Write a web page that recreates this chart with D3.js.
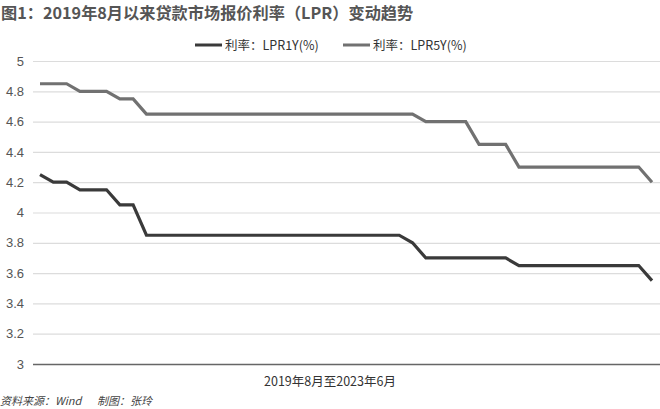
<!DOCTYPE html>
<html><head><meta charset="utf-8">
<script src="https://cdn.jsdelivr.net/npm/d3@7"></script>
<style>body{margin:0;background:#fff;}svg{display:block;font-family:"Liberation Sans","Noto Sans CJK SC",sans-serif;}</style>
</head><body><svg id="c" width="660" height="409"></svg>
<script>
const months = ["2019-08","2019-09","2019-10","2019-11","2019-12",
"2020-01","2020-02","2020-03","2020-04","2020-05","2020-06","2020-07","2020-08","2020-09","2020-10","2020-11","2020-12",
"2021-01","2021-02","2021-03","2021-04","2021-05","2021-06","2021-07","2021-08","2021-09","2021-10","2021-11","2021-12",
"2022-01","2022-02","2022-03","2022-04","2022-05","2022-06","2022-07","2022-08","2022-09","2022-10","2022-11","2022-12",
"2023-01","2023-02","2023-03","2023-04","2023-05","2023-06"];
const lpr1y = [4.25,4.20,4.20,4.15,4.15,
4.15,4.05,4.05,3.85,3.85,3.85,3.85,3.85,3.85,3.85,3.85,3.85,
3.85,3.85,3.85,3.85,3.85,3.85,3.85,3.85,3.85,3.85,3.85,3.80,
3.70,3.70,3.70,3.70,3.70,3.70,3.70,3.65,3.65,3.65,3.65,3.65,
3.65,3.65,3.65,3.65,3.65,3.55];
const lpr5y = [4.85,4.85,4.85,4.80,4.80,
4.80,4.75,4.75,4.65,4.65,4.65,4.65,4.65,4.65,4.65,4.65,4.65,
4.65,4.65,4.65,4.65,4.65,4.65,4.65,4.65,4.65,4.65,4.65,4.65,
4.60,4.60,4.60,4.60,4.45,4.45,4.45,4.30,4.30,4.30,4.30,4.30,
4.30,4.30,4.30,4.30,4.30,4.20];
const yTicks = [3,3.2,3.4,3.6,3.8,4,4.2,4.4,4.6,4.8,5];
const seriesNames = ["利率：LPR1Y(%)","利率：LPR5Y(%)"];
const title = "图1：2019年8月以来贷款市场报价利率（LPR）变动趋势";
const xTitle = "2019年8月至2023年6月";

const svg = d3.select("#c");
const x = d3.scalePoint().domain(months).range([40, 652]);
const y = d3.scaleLinear().domain([3,5]).range([364, 61]);

// gridlines
const yAxis = d3.axisLeft(y).tickValues(yTicks).tickSize(-(660-33)).tickPadding(9)
  .tickFormat(d => d3.format("")(+d.toFixed(1)));
const g = svg.append("g").attr("transform","translate(33,0)").call(yAxis);
g.select(".domain").remove();
g.selectAll(".tick line").attr("stroke","#dcdcdc").attr("stroke-width",1.2);
g.selectAll(".tick text").attr("fill","#555").attr("font-size",13).attr("font-family","Liberation Sans, sans-serif");
g.selectAll(".tick").filter(d=>d===3).select("line").attr("stroke","#666").attr("stroke-width",1.5);

const line = d3.line().x((d,i)=>x(months[i])).y(d=>y(d));
svg.append("path").datum(lpr5y).attr("d",line).attr("fill","none").attr("stroke","#717171").attr("stroke-width",3.2);
svg.append("path").datum(lpr1y).attr("d",line).attr("fill","none").attr("stroke","#3a3a3a").attr("stroke-width",3.2);

// title
svg.append("text").attr("x",1).attr("y",19).text(title)
  .attr("font-size",16.2).attr("font-weight","bold").attr("fill","#555")
  .attr("font-family","Noto Sans CJK SC, sans-serif");

// legend
const lg = [{x:195,c:"#3a3a3a",t:seriesNames[0]},{x:343,c:"#717171",t:seriesNames[1]}];
lg.forEach(l=>{
  svg.append("line").attr("x1",l.x).attr("x2",l.x+27).attr("y1",45).attr("y2",45).attr("stroke",l.c).attr("stroke-width",3);
  svg.append("text").attr("x",l.x+30).attr("y",50).text(l.t).attr("font-size",12.5).attr("fill","#333")
    .attr("font-family","Noto Sans CJK SC, sans-serif");
});

// x title
svg.append("text").attr("x",330).attr("y",386).attr("text-anchor","middle").text(xTitle)
  .attr("font-size",12.5).attr("fill","#333").attr("font-family","Noto Sans CJK SC, sans-serif");

// source
svg.append("text").attr("x",0).attr("y",405).text("资料来源：Wind")
  .attr("font-size",11).attr("font-style","italic").attr("fill","#444").attr("font-family","Noto Sans CJK SC, sans-serif");
svg.append("text").attr("x",97).attr("y",405).text("制图：张玲")
  .attr("font-size",11).attr("font-style","italic").attr("fill","#444").attr("font-family","Noto Sans CJK SC, sans-serif");
</script></body></html>
